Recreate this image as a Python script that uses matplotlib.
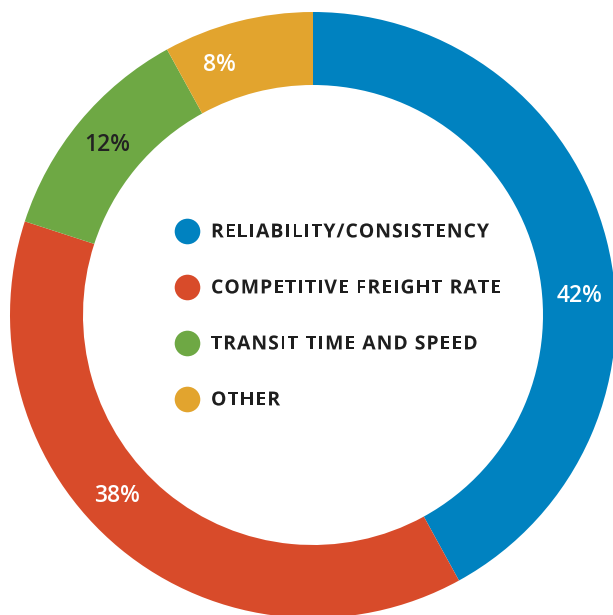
import numpy as np
import matplotlib
matplotlib.use("Agg")
import matplotlib.pyplot as plt
from matplotlib.font_manager import FontProperties, findfont
from matplotlib.ft2font import FT2Font
from matplotlib.patches import PathPatch
from matplotlib.textpath import TextPath

CATEGORIES = ["RELIABILITY/CONSISTENCY", "COMPETITIVE FREIGHT RATE",
              "TRANSIT TIME AND SPEED", "OTHER"]
SHARES = [42, 38, 12, 8]
COLORS = ["#0082C0", "#D84B2A", "#6EA844", "#E2A42E"]
LABEL_COLORS = ["white", "white", "#222222", "white"]
# angle (deg, counter-clockwise from +x) where each % label sits
LABEL_ANGLES = [4, -137.3, 140.5, 110.4]

W, H = 613, 615
CX, CY = 313, H - 315
R_OUT, R_IN = 303, 230

plt.rcParams["font.family"] = ["Open Sans", "DejaVu Sans"]

fig = plt.figure(figsize=(W / 100, H / 100), dpi=100)
ax = fig.add_axes([0, 0, 1, 1])
ax.pie(SHARES, colors=COLORS, startangle=90, counterclock=False,
       radius=R_OUT, center=(CX, CY),
       wedgeprops=dict(width=R_OUT - R_IN, linewidth=0))
ax.set_xlim(0, W)
ax.set_ylim(0, H)
ax.set_aspect("equal")
ax.axis("off")

r_lab = 267
for share, ang, col in zip(SHARES, LABEL_ANGLES, LABEL_COLORS):
    a = np.deg2rad(ang)
    ax.text(CX + r_lab * np.cos(a), CY + r_lab * np.sin(a), f"{share}%",
            ha="center", va="center", color=col, fontsize=16.5,
            fontweight="semibold")


# legend text is letter-spaced, which plain ax.text can't do: lay the
# glyphs out one by one (1 data unit == 1 px here)
LEG_FP = FontProperties(family="Open Sans", weight="bold")
LEG_EM = 19.4      # px
TRACK = 1.0        # px added after each glyph
_ft = FT2Font(findfont(LEG_FP))
_ft.set_size(LEG_EM * 72 / 100, 100)


def tracked_text(x, y_mid, s, color):
    base = y_mid - 0.714 * LEG_EM / 2
    for ch in s:
        adv = _ft.load_char(ord(ch)).linearHoriAdvance / 65536
        if ch != " ":
            tp = TextPath((x, base), ch, size=LEG_EM, prop=LEG_FP)
            ax.add_patch(PathPatch(tp, color=color, lw=0))
        x += adv + TRACK


y0, step = H - 230.5, 56
for i, (cat, col) in enumerate(zip(CATEGORIES, COLORS)):
    y = y0 - i * step
    ax.scatter([187], [y], s=340, color=col, linewidths=0)
    tracked_text(211, y, cat, "#1e1e1e")

fig.savefig("out.png", dpi=100)
